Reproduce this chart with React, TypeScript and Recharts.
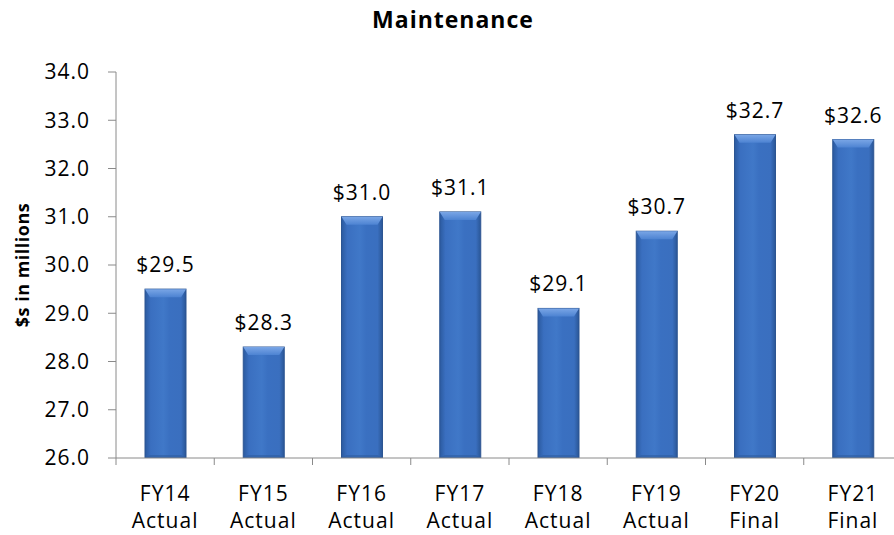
import { BarChart, Bar, XAxis, YAxis, LabelList } from 'recharts'

const YEARS = ['FY14', 'FY15', 'FY16', 'FY17', 'FY18', 'FY19', 'FY20', 'FY21']
const STAGES = ['Actual', 'Actual', 'Actual', 'Actual', 'Actual', 'Actual', 'Final', 'Final']
const VALUES = [29.5, 28.3, 31.0, 31.1, 29.1, 30.7, 32.7, 32.6]
const Y_TICKS = [26, 27, 28, 29, 30, 31, 32, 33, 34]

const data = YEARS.map((fy, i) => ({ fy, stage: STAGES[i], value: VALUES[i] }))

const FONT = '"Open Sans", "Noto Sans", sans-serif'
const AXIS = '#8a8a8a'

// the plot runs a little past the right edge of the window, like the original
const CHART_W = 910
const CHART_H = 535
const Y_AXIS_W = 116
const RIGHT = 8
const BAND = (CHART_W - Y_AXIS_W - RIGHT) / YEARS.length

function CategoryTick({ x, y, payload, index }: any) {
  const left = x - BAND / 2
  return (
    <g>
      <line x1={left} x2={left} y1={y} y2={y + 7} stroke={AXIS} strokeWidth={1} />
      <text x={x} y={y} textAnchor="middle" fill="#000" fontSize={21} fontFamily={FONT} style={{ letterSpacing: 1 }}>
        <tspan x={x} dy={43}>{payload.value}</tspan>
        <tspan x={x} dy={27}>{STAGES[index]}</tspan>
      </text>
    </g>
  )
}

function GlossyBar({ x, y, width, height }: any) {
  if (!height || height <= 0) return null
  const b = Math.min(8, height / 2)
  const s = 5
  return (
    <g>
      <rect x={x} y={y} width={width} height={height} fill="url(#barBody)" stroke="#2c5592" strokeWidth={1} />
      <polygon
        points={`${x},${y} ${x + width},${y} ${x + width - s},${y + b} ${x + s},${y + b}`}
        fill="url(#barTop)"
      />
      <polygon
        points={`${x},${y + height} ${x + width},${y + height} ${x + width - s},${y + height - 3} ${x + s},${y + height - 3}`}
        fill="#2f5da0"
        opacity={0.6}
      />
    </g>
  )
}

export default function App() {
  return (
    <div style={{ position: 'absolute', left: 0, top: 0, width: 894, height: 535, overflow: 'hidden', background: '#fff' }}>
      <div
        style={{
          position: 'absolute',
          left: 0,
          width: 906,
          top: 8,
          textAlign: 'center',
          fontFamily: FONT,
          fontWeight: 700,
          fontSize: 23,
          lineHeight: '23px',
          letterSpacing: 1,
          color: '#000',
        }}
      >
        Maintenance
      </div>
      <div
        style={{
          position: 'absolute',
          left: 22,
          top: 265,
          transform: 'translate(-50%, -50%) rotate(-90deg)',
          whiteSpace: 'nowrap',
          fontFamily: FONT,
          fontWeight: 700,
          fontSize: 18,
          letterSpacing: 0.5,
          color: '#000',
        }}
      >
        $s in millions
      </div>
      <BarChart width={CHART_W} height={CHART_H} data={data} margin={{ top: 72, right: RIGHT, bottom: 0, left: 0 }}>
        <defs>
          <linearGradient id="barBody" x1="0" y1="0" x2="1" y2="0">
            <stop offset="0%" stopColor="#2b5a9f" />
            <stop offset="14%" stopColor="#3a6fc0" />
            <stop offset="45%" stopColor="#4078c8" />
            <stop offset="60%" stopColor="#3a70c1" />
            <stop offset="88%" stopColor="#3a6fbf" />
            <stop offset="100%" stopColor="#2a5696" />
          </linearGradient>
          <linearGradient id="barTop" x1="0" y1="0" x2="0" y2="1">
            <stop offset="0%" stopColor="#7aa6e6" />
            <stop offset="100%" stopColor="#4d83d2" />
          </linearGradient>
        </defs>
        <XAxis
          dataKey="fy"
          height={CHART_H - 458}
          stroke={AXIS}
          tickLine={false}
          tickSize={0}
          tickMargin={0}
          interval={0}
          tick={<CategoryTick />}
        />
        <YAxis
          width={Y_AXIS_W}
          domain={[26, 34]}
          ticks={Y_TICKS}
          allowDataOverflow
          stroke={AXIS}
          tickSize={8}
          tickMargin={18}
          tickFormatter={(v: number) => v.toFixed(1)}
          tick={{ fill: '#000', fontSize: 21, fontFamily: FONT, style: { letterSpacing: 1 } }}
        />
        <Bar dataKey="value" barSize={41} shape={<GlossyBar />} isAnimationActive={false}>
          <LabelList
            dataKey="value"
            position="top"
            offset={17}
            formatter={(v: any) => `$${Number(v).toFixed(1)}`}
            style={{ fill: '#000', fontSize: 21, fontFamily: FONT, letterSpacing: 1 }}
          />
        </Bar>
      </BarChart>
    </div>
  )
}
